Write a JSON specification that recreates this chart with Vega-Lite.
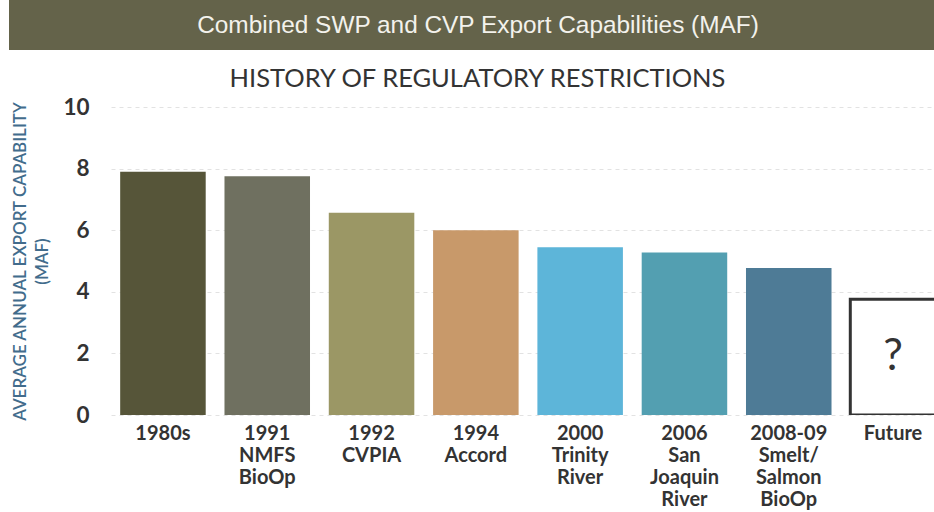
{
  "$schema": "https://vega.github.io/schema/vega-lite/v6.json",
  "autosize": {"type": "pad"},
  "padding": {"left": 9, "top": 0, "right": 0, "bottom": 0},
  "background": "white",
  "spacing": 17,
  "config": {"view": {"stroke": null}, "font": "Lato"},
  "vconcat": [
    {
      "width": 925,
      "height": 50,
      "view": {"fill": "#64634a", "stroke": null},
      "data": {"values": [{"header": "Combined SWP and CVP Export Capabilities (MAF)"}]},
      "mark": {"type": "text", "font": "Liberation Sans", "fontSize": 24.4, "color": "#f3f2ec", "baseline": "middle", "dy": 1, "dx": 6.5},
      "encoding": {"text": {"field": "header"}}
    },
    {
      "width": 925,
      "height": 308,
      "title": {"text": "HISTORY OF REGULATORY RESTRICTIONS", "fontSize": 25.5, "font": "Lato", "fontWeight": "normal", "color": "#333333", "anchor": "middle", "offset": 3.5, "dx": 6},
      "data": {"values": [
        {"period": "1980s", "value": 7.9},
        {"period": "1991 NMFS BioOp", "value": 7.75},
        {"period": "1992 CVPIA", "value": 6.57},
        {"period": "1994 Accord", "value": 6.0},
        {"period": "2000 Trinity River", "value": 5.45},
        {"period": "2006 San Joaquin River", "value": 5.28},
        {"period": "2008-09 Smelt/ Salmon BioOp", "value": 4.77},
        {"period": "Future", "value": 3.76, "note": "?"}
      ]},
      "encoding": {
        "x": {
          "field": "period", "type": "nominal", "sort": null,
          "scale": {"range": [102, 936], "paddingInner": 0.18, "paddingOuter": 0.088},
          "axis": {"title": null, "labelExpr": "split(datum.label, ' ')", "labelAngle": 0, "labelFont": "Lato", "labelFontSize": 20, "labelFontWeight": "bold", "labelLineHeight": 22, "labelColor": "#333333", "labelPadding": 8.5, "domain": false, "ticks": false}
        },
        "y": {
          "field": "value", "type": "quantitative",
          "scale": {"domain": [0, 10]},
          "axis": {"offset": -102, "title": ["AVERAGE ANNUAL EXPORT CAPABILITY", "(MAF)"], "titleFont": "Lato", "titleFontSize": 17, "titleFontWeight": 600, "titleColor": "#426c8c", "titleLineHeight": 22, "titlePadding": 8, "values": [0, 2, 4, 6, 8, 10], "labelFont": "Lato", "labelFontSize": 22.5, "labelFontWeight": "bold", "labelColor": "#333333", "labelPadding": 22, "minExtent": 52, "maxExtent": 52, "domain": false, "ticks": false, "grid": true, "gridColor": "#e2e2e2", "gridDash": [4, 4], "gridWidth": 1}
        }
      },
      "layer": [
        {
          "mark": {"type": "bar", "clip": true, "strokeWidth": 3},
          "encoding": {
            "fill": {"field": "period", "type": "nominal", "legend": null, "scale": {
              "domain": ["1980s", "1991 NMFS BioOp", "1992 CVPIA", "1994 Accord", "2000 Trinity River", "2006 San Joaquin River", "2008-09 Smelt/ Salmon BioOp", "Future"],
              "range": ["#565539", "#6f7060", "#9b9765", "#c8996a", "#5db5d9", "#539fb1", "#4e7b96", "#ffffff"]}},
            "stroke": {"condition": {"test": "datum.period === 'Future'", "value": "#333333"}, "value": null}
          }
        },
        {
          "transform": [{"filter": "isValid(datum.note)"}],
          "mark": {"type": "text", "dy": 58, "fontSize": 44, "font": "Lato", "color": "#333333", "baseline": "middle"},
          "encoding": {"text": {"field": "note"}}
        }
      ]
    }
  ]
}
